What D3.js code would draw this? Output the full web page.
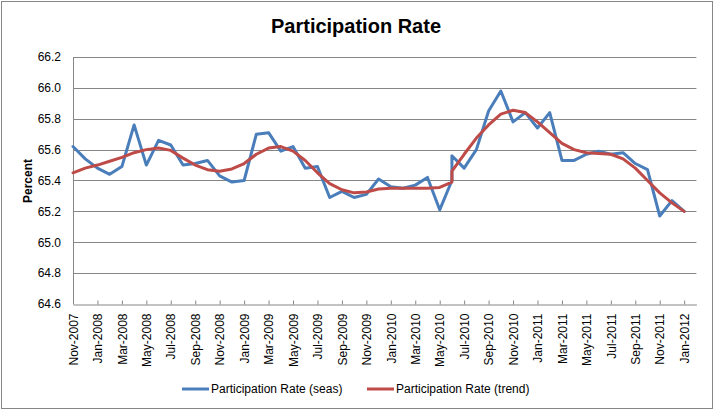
<!DOCTYPE html>
<html>
<head>
<meta charset="utf-8">
<script src="https://cdn.jsdelivr.net/npm/d3@7"></script>
<style>
  html, body { margin: 0; padding: 0; background: #fff; }
  svg { display: block; }
</style>
</head>
<body>
<svg id="chart" width="714" height="411"></svg>
<script>
// ---- data ----
const months = [
  "Nov-2007","Dec-2007","Jan-2008","Feb-2008","Mar-2008","Apr-2008","May-2008","Jun-2008","Jul-2008","Aug-2008",
  "Sep-2008","Oct-2008","Nov-2008","Dec-2008","Jan-2009","Feb-2009","Mar-2009","Apr-2009","May-2009","Jun-2009",
  "Jul-2009","Aug-2009","Sep-2009","Oct-2009","Nov-2009","Dec-2009","Jan-2010","Feb-2010","Mar-2010","Apr-2010",
  "May-2010","Jun-2010","Jun-2010","Jul-2010","Aug-2010","Sep-2010","Oct-2010","Nov-2010","Dec-2010","Jan-2011",
  "Feb-2011","Mar-2011","Apr-2011","May-2011","Jun-2011","Jul-2011","Aug-2011","Sep-2011","Oct-2011","Nov-2011",
  "Dec-2011","Jan-2012"
];
const seas = [
  65.62,65.54,65.48,65.44,65.49,65.76,65.50,65.66,65.63,65.50,
  65.51,65.53,65.43,65.39,65.40,65.70,65.71,65.59,65.62,65.48,
  65.49,65.29,65.33,65.29,65.31,65.41,65.36,65.35,65.37,65.42,
  65.21,65.40,65.56,65.48,65.60,65.85,65.98,65.78,65.84,65.74,
  65.84,65.53,65.53,65.57,65.59,65.57,65.58,65.51,65.47,65.17,
  65.27,65.20
];
const trend = [
  65.45,65.48,65.50,65.525,65.55,65.58,65.60,65.61,65.595,65.545,
  65.50,65.47,65.46,65.475,65.51,65.57,65.61,65.62,65.59,65.53,
  65.45,65.38,65.34,65.32,65.325,65.345,65.35,65.35,65.35,65.35,
  65.355,65.39,65.46,65.57,65.675,65.76,65.83,65.855,65.84,65.78,
  65.71,65.64,65.60,65.58,65.575,65.57,65.54,65.48,65.40,65.32,
  65.255,65.20
];
const xTickLabels = [
  "Nov-2007","Jan-2008","Mar-2008","May-2008","Jul-2008","Sep-2008","Nov-2008","Jan-2009","Mar-2009",
  "May-2009","Jul-2009","Sep-2009","Nov-2009","Jan-2010","Mar-2010","May-2010","Jul-2010","Sep-2010",
  "Nov-2010","Jan-2011","Mar-2011","May-2011","Jul-2011","Sep-2011","Nov-2011","Jan-2012"
];
const yTicks = [64.6,64.8,65.0,65.2,65.4,65.6,65.8,66.0,66.2];
const seriesNames = ["Participation Rate (seas)","Participation Rate (trend)"];
const title = "Participation Rate";
const yTitle = "Percent";

// ---- setup ----
const parse = d3.timeParse("%b-%Y");
const start = parse(months[0]);
const mIdx = s => d3.timeMonth.count(start, parse(s));

const svg = d3.select("#chart");
const colors = ["#4A7EBB", "#BE4B48"];
const gridColor = "#868686";
const font = "'Liberation Sans', Arial, sans-serif";

const x = d3.scaleLinear().domain([0, 51]).range([73, 696.4]);
const y = d3.scaleLinear().domain([64.6, 66.2]).range([304, 57]);

// border
svg.append("rect").attr("x", 1.5).attr("y", 1.5).attr("width", 711).attr("height", 407)
  .attr("fill", "#fff").attr("stroke", gridColor).attr("stroke-width", 1);

// title
svg.append("text").attr("x", 356).attr("y", 33).attr("text-anchor", "middle")
  .attr("font-family", font).attr("font-weight", "bold").attr("font-size", 20)
  .attr("fill", "#000").text(title);

// gridlines
svg.append("g").selectAll("line").data(yTicks.filter(v => v > 64.6)).join("line")
  .attr("x1", x(0)).attr("x2", x(51))
  .attr("y1", d => Math.round(y(d)) + 0.5).attr("y2", d => Math.round(y(d)) + 0.5)
  .attr("stroke", gridColor).attr("stroke-width", 1);

// y axis
const yAxis = svg.append("g").attr("transform", `translate(${x(0)},0)`)
  .call(d3.axisLeft(y).tickValues(yTicks).tickFormat(d3.format(".1f")).tickSize(0).tickPadding(12));
yAxis.select(".domain").attr("stroke", gridColor).attr("d", `M0.5,${y(66.2)}V${y(64.6)}`);
yAxis.selectAll("text").attr("font-family", font).attr("font-size", 12).attr("fill", "#000");

// x axis
const xAxis = svg.append("g").attr("transform", `translate(0,${Math.round(y(64.6)) + 0.5})`)
  .call(d3.axisBottom(x).tickValues(xTickLabels.map(mIdx))
    .tickFormat(d => xTickLabels.find(l => mIdx(l) === d)).tickSizeInner(-4).tickSizeOuter(0));
xAxis.select(".domain").attr("stroke", gridColor);
xAxis.selectAll(".tick line").attr("stroke", gridColor);
xAxis.selectAll("text")
  .attr("font-family", font).attr("font-size", 12).attr("fill", "#000")
  .attr("transform", "rotate(-90)")
  .attr("text-anchor", "end").attr("x", -9).attr("y", 0).attr("dy", "0.35em");

// y title
svg.append("text").attr("transform", "translate(32,181) rotate(-90)")
  .attr("text-anchor", "middle").attr("font-family", font).attr("font-weight", "bold")
  .attr("font-size", 12).attr("fill", "#000").text(yTitle);

// series
const pts = vals => months.map((m, i) => [mIdx(m), vals[i]]);
const line = d3.line().x(d => x(d[0])).y(d => y(d[1]));

[seas, trend].forEach((vals, i) => {
  svg.append("path").datum(pts(vals)).attr("d", line)
    .attr("fill", "none").attr("stroke", colors[i]).attr("stroke-width", 3)
    .attr("stroke-linejoin", "round").attr("stroke-linecap", "round");
});

// legend
const legendX = [182, 367];
const lg = svg.append("g");
seriesNames.forEach((name, i) => {
  lg.append("line").attr("x1", legendX[i]).attr("x2", legendX[i] + 27)
    .attr("y1", 389).attr("y2", 389).attr("stroke", colors[i]).attr("stroke-width", 3);
  lg.append("text").attr("x", legendX[i] + 29).attr("y", 389).attr("dy", "0.35em")
    .attr("font-family", font).attr("font-size", 12).attr("fill", "#000").text(name);
});
</script>
</body>
</html>
